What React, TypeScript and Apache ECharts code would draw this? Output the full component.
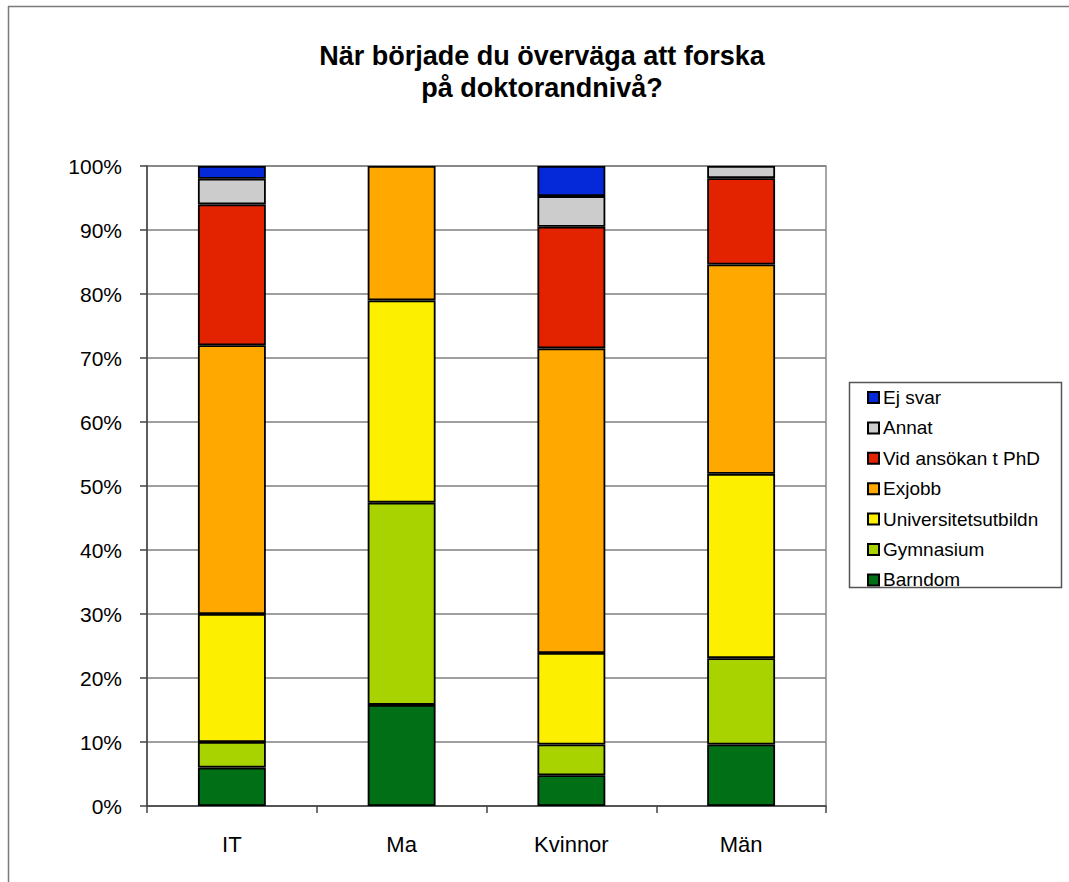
import React, { useEffect, useRef } from "react";
import * as echarts from "echarts";

// Andel (%) per grupp för varje svarsalternativ
const categories = ["IT", "Ma", "Kvinnor", "Män"];
const barndom = [6, 15.8, 4.8, 9.6];
const gymnasium = [4, 31.6, 4.8, 13.5];
const universitetsutbildn = [20, 31.6, 14.3, 28.8];
const exjobb = [42, 21.0, 47.6, 32.7];
const vidAnsokan = [22, 0, 19.0, 13.5];
const annat = [4, 0, 4.8, 1.9];
const ejSvar = [2, 0, 4.7, 0];

const seriesNames = [
  "Barndom",
  "Gymnasium",
  "Universitetsutbildn",
  "Exjobb",
  "Vid ansökan t PhD",
  "Annat",
  "Ej svar",
];
const seriesValues = [barndom, gymnasium, universitetsutbildn, exjobb, vidAnsokan, annat, ejSvar];
const seriesColors = ["#006f16", "#a9d300", "#fcf000", "#fea800", "#e32300", "#cccccc", "#0528d8"];

const FONT = '"Liberation Sans", Arial, Helvetica, sans-serif';

export default function App() {
  const ref = useRef<HTMLDivElement>(null);

  useEffect(() => {
    if (!ref.current) return;
    const chart = echarts.init(ref.current, null, { renderer: "svg" });

    const series = seriesNames.map((name, i) => ({
      name,
      type: "bar",
      stack: "total",
      barWidth: "40%",
      data: seriesValues[i].map((v) => (v === 0 ? "-" : v)),
      itemStyle: { color: seriesColors[i], borderColor: "#000", borderWidth: 1.8 },
    }));

    chart.setOption({
      animation: false,
      backgroundColor: "#fff",
      textStyle: { fontFamily: FONT },
      graphic: [
        // outer frame (top and left edges)
        { type: "line", shape: { x1: 8, y1: 6.5, x2: 1069, y2: 6.5 }, style: { stroke: "#7a7a7a", lineWidth: 1.5 } },
        { type: "line", shape: { x1: 8.5, y1: 6, x2: 8.5, y2: 882 }, style: { stroke: "#7a7a7a", lineWidth: 1.5 } },
        // title
        {
          type: "text",
          x: 542,
          y: 56,
          style: {
            text: "När började du överväga att forska",
            font: `bold 27px ${FONT}`,
            fill: "#000",
            align: "center",
            verticalAlign: "middle",
          },
        },
        {
          type: "text",
          x: 542,
          y: 88,
          style: {
            text: "på doktorandnivå?",
            font: `bold 27px ${FONT}`,
            fill: "#000",
            align: "center",
            verticalAlign: "middle",
          },
        },
        // legend frame
        {
          type: "rect",
          shape: { x: 849.5, y: 382.5, width: 212, height: 205 },
          style: { fill: "none", stroke: "#555", lineWidth: 1.5 },
          z: 10,
        },
      ],
      legend: {
        orient: "vertical",
        left: 867,
        top: 388,
        padding: 0,
        itemWidth: 11,
        itemHeight: 11,
        itemGap: 11.4,
        icon: "rect",
        data: [...seriesNames].reverse(),
        textStyle: { fontFamily: FONT, fontSize: 19, color: "#000", lineHeight: 18, padding: [0, 0, 0, -1] },
      },
      grid: {
        left: 147,
        top: 166,
        right: 243,
        bottom: 76,
        show: true,
        borderColor: "#8a8a8a",
        borderWidth: 1.5,
        backgroundColor: "#fff",
      },
      xAxis: {
        type: "category",
        data: categories,
        axisLine: { lineStyle: { color: "#444", width: 1.5 } },
        axisTick: { show: true, length: 7, lineStyle: { color: "#444", width: 1.5 } },
        axisLabel: { fontSize: 22, color: "#000", margin: 27, fontFamily: FONT },
      },
      yAxis: {
        type: "value",
        min: 0,
        max: 100,
        interval: 10,
        axisLine: { show: true, lineStyle: { color: "#444", width: 1.5 } },
        axisTick: { show: true, length: 7, lineStyle: { color: "#444", width: 1.5 } },
        axisLabel: { fontSize: 21, color: "#000", margin: 25, formatter: "{value}%", fontFamily: FONT },
        splitLine: { lineStyle: { color: "#7f7f7f", width: 1.5 } },
      },
      series,
    });

    return () => chart.dispose();
  }, []);

  return (
    <div
      ref={ref}
      style={{ position: "fixed", left: 0, top: 0, width: 1069, height: 882, background: "#fff" }}
    />
  );
}
